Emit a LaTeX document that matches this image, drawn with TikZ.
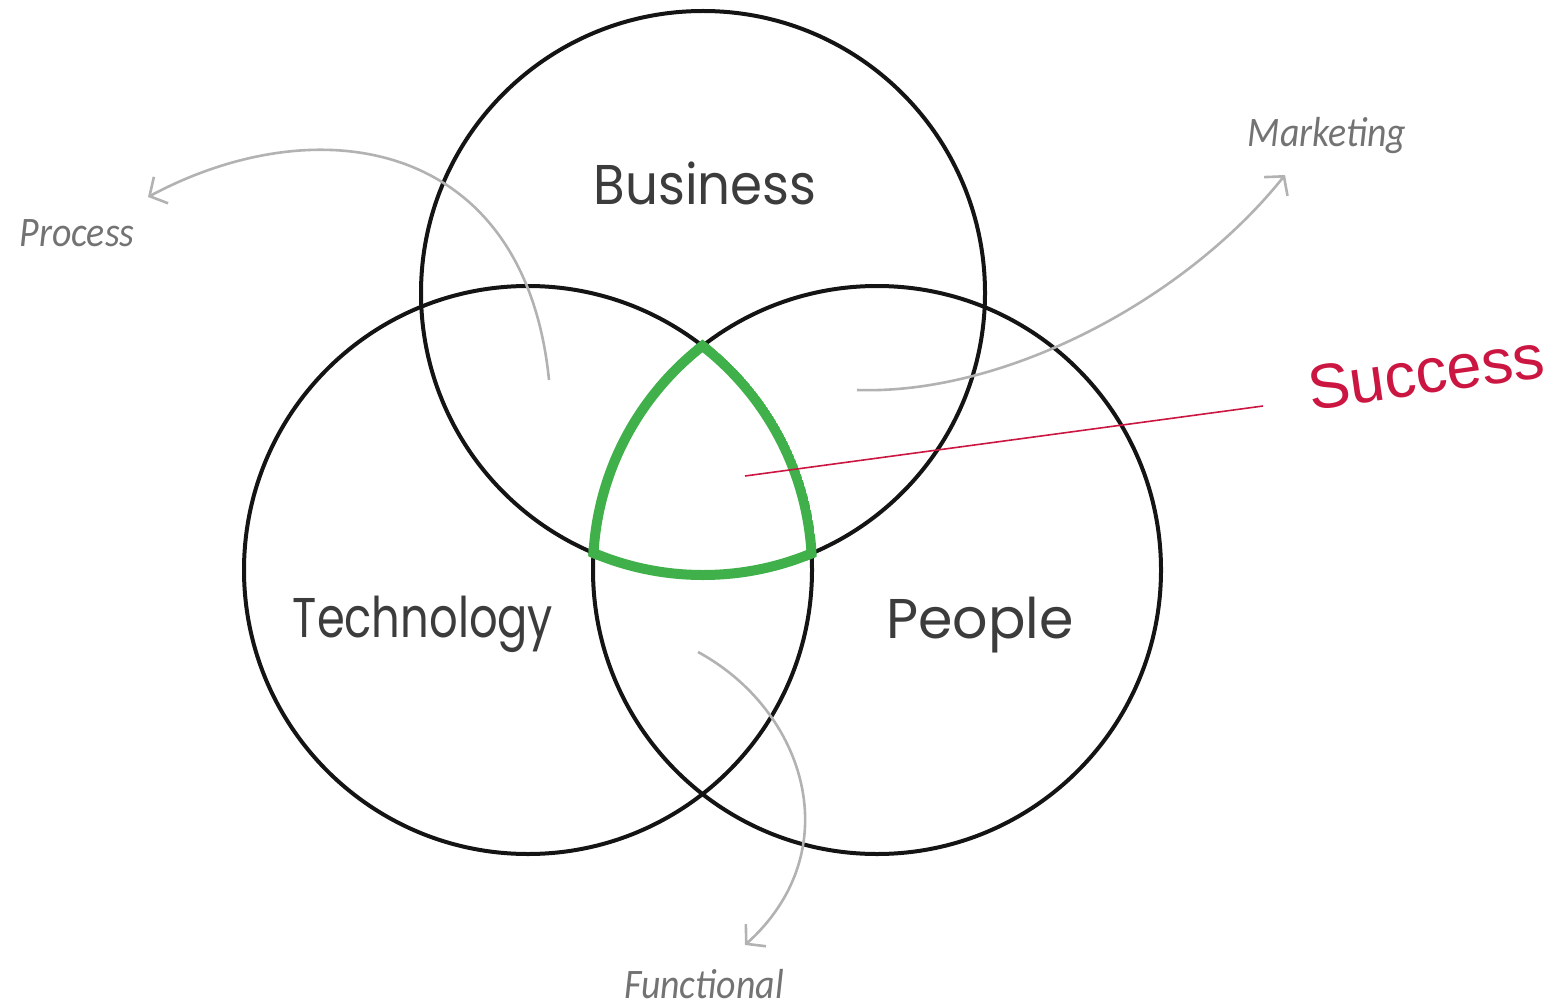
\documentclass[tikz,border=0pt]{standalone}
\usepackage{fontspec}
\setmainfont{Poppins}
\newfontfamily\succfont{Liberation Sans}
\newfontfamily\handfont{Carlito}
\usetikzlibrary{arrows.meta}
\definecolor{venngreen}{RGB}{64,176,74}
\definecolor{succred}{RGB}{204,22,66}
\definecolor{arrowgray}{RGB}{178,178,178}
\definecolor{handgray}{RGB}{115,115,115}
\definecolor{lblgray}{RGB}{60,60,60}
\definecolor{ringblack}{RGB}{20,20,20}
\tikzset{
  ring/.style={draw=ringblack, line width=4pt},
  greenring/.style={draw=venngreen, line width=10pt},
  mainlbl/.style={text=lblgray, font=\fontsize{56}{64}\selectfont, inner sep=0pt, transform shape},
  hand/.style={text=handgray, font=\handfont\itshape\fontsize{42}{50}\selectfont, inner sep=0pt, xscale=0.9, transform shape},
  succlbl/.style={text=succred, font=\succfont\fontsize{63}{70}\selectfont, inner sep=0pt},
  garrow/.style={draw=arrowgray, line width=2.6pt, -{Straight Barb[length=13pt,width=30pt,line width=2.6pt]}},
  redline/.style={draw=succred, line width=1.6pt}
}
\begin{document}
\begin{tikzpicture}[x=1pt,y=-1pt]
\useasboundingbox (0,0) rectangle (1554,1008);
\coordinate (cB) at (703,293);
\coordinate (cT) at (528,570);
\coordinate (cP) at (877,570);
% black circles
\draw[ring] (cB) circle (282pt);
\draw[ring] (cT) circle (284pt);
\draw[ring] (cP) circle (284pt);
% green centre region
\begin{scope}
  \clip (cB) circle (287pt);
  \clip (cT) circle (289pt);
  \clip (cP) circle (289pt);
  \draw[greenring] (cB) circle (282pt);
  \draw[greenring] (cT) circle (284pt);
  \draw[greenring] (cP) circle (284pt);
\end{scope}
% labels
\node[mainlbl, xscale=0.92] (business) at (705,183) {Business};
\node[mainlbl, xscale=0.8] (technology) at (423,624) {Technology};
\node[mainlbl, xscale=0.99] (people) at (980,625) {People};
\node[hand] (process) at (77,233) {Process};
\node[hand] (marketing) at (1327,136) {Marketing};
\node[hand] (functional) at (704,984) {Functional};
\node[succlbl, rotate=8] (success) at (1426,372) {Success};
% arrows
\coordinate (procS) at (549,380);
\coordinate (procE) at (148,197);
\draw[garrow] (procS) .. controls (525,140) and (320,105) .. (procE);
\coordinate (markS) at (857,390);
\coordinate (markE) at (1285,175);
\draw[garrow] (markS) .. controls (1005,395) and (1185,300) .. (markE);
\coordinate (funcS) at (698,652);
\coordinate (funcE) at (745,945);
\draw[garrow] (funcS) .. controls (805,710) and (850,850) .. (funcE);
% success pointer
\coordinate (succS) at (745,476);
\coordinate (succE) at (1263,406);
\draw[redline] (succS) -- (succE);
\end{tikzpicture}
\end{document}
